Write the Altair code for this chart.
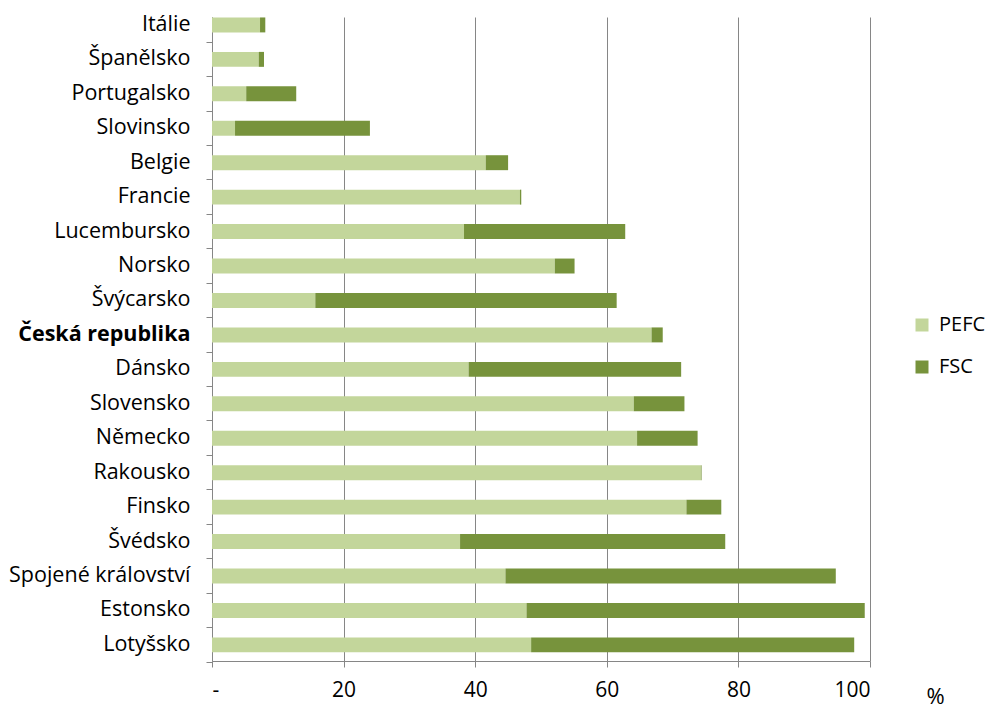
import altair as alt
import pandas as pd

countries = ["Itálie", "Španělsko", "Portugalsko", "Slovinsko", "Belgie", "Francie",
             "Lucembursko", "Norsko", "Švýcarsko", "Česká republika", "Dánsko",
             "Slovensko", "Německo", "Rakousko", "Finsko", "Švédsko",
             "Spojené království", "Estonsko", "Lotyšsko"]
pefc = [7.3, 7.1, 5.2, 3.5, 41.6, 46.8, 38.3, 52.1, 15.7, 66.8, 39.0,
        64.1, 64.6, 74.3, 72.1, 37.7, 44.6, 47.8, 48.5]
fsc = [0.8, 0.8, 7.6, 20.5, 3.4, 0.2, 24.5, 3.0, 45.8, 1.7, 32.3,
       7.7, 9.2, 0.1, 5.3, 40.3, 50.2, 51.4, 49.1]
series = ["PEFC", "FSC"]
colors = ["#C3D69B", "#77933C"]
x_ticks = [0, 20, 40, 60, 80, 100]

rows = []
for c, p, f in zip(countries, pefc, fsc):
    rows.append({"country": c, "series": "PEFC", "value": p, "ord": 0})
    rows.append({"country": c, "series": "FSC", "value": f, "ord": 1})
df = pd.DataFrame(rows)

FONT = "Open Sans"

chart = alt.Chart(df).mark_bar().encode(
    y=alt.Y("country:N", sort=countries,
            scale=alt.Scale(paddingInner=0.566, paddingOuter=0.132, align=0.05),
            axis=alt.Axis(title=None, bandPosition=1.65, tickSize=6, tickColor="#868686",
                          domainColor="#868686", labelPadding=16, labelFontSize=21.5,
                          labelLimit=0,
                          labelFont=FONT, labelColor="#000000", grid=False,
                          labelFontWeight={"condition": {"test": "datum.value == 'Česká republika'", "value": "bold"}, "value": "normal"})),
    x=alt.X("value:Q", stack="zero",
            scale=alt.Scale(domain=[0, 100], nice=False),
            axis=alt.Axis(values=x_ticks, title="%", grid=True, gridColor="#868686",
                          gridWidth=1, tickSize=6, tickColor="#868686", domainColor="#868686",
                          labelFontSize=21, labelFont=FONT, labelColor="#000000",
                          labelPadding=12,
                          labelExpr="datum.value == 0 ? '-' : datum.label",
                          titleFont=FONT, titleFontSize=22, titleFontWeight="normal",
                          titleColor="#000000", titleX=723, titleY=35,
                          titleAlign="center", titleBaseline="middle", titleAngle=0)),
    color=alt.Color("series:N", scale=alt.Scale(domain=series, range=colors),
                    legend=alt.Legend(title=None, orient="none", legendX=700, legendY=298,
                                      symbolType="square", symbolSize=169,
                                      symbolStrokeWidth=0, labelFont=FONT,
                                      labelFontSize=20, labelColor="#000000",
                                      rowPadding=22, labelOffset=7, padding=0)),
    order=alt.Order("ord:Q"),
).properties(
    width=658, height=644,
    autosize=alt.AutoSizeParams(type="none"),
    padding={"left": 204, "top": 9, "right": 120, "bottom": 48},
).configure_view(stroke=None).configure_axis(gridOpacity=1)

chart.save("out.html", embed_options={"renderer": "svg", "actions": False})
